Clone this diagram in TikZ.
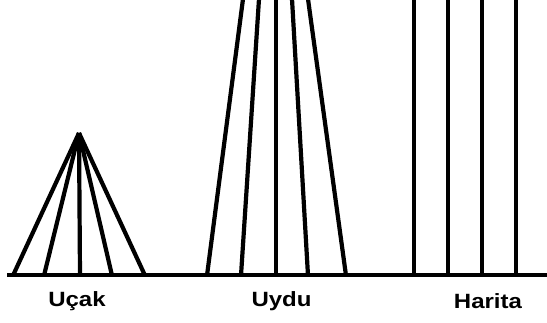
\documentclass[tikz,border=0pt]{standalone}
\usepackage{fontspec}
\setmainfont{Liberation Sans}
\begin{document}
\begin{tikzpicture}[x=1pt,y=-1pt,
  ray/.style={line width=4.2pt,line cap=butt},
  base/.style={line width=4pt},
  lbl/.style={inner sep=0pt,font=\bfseries\fontsize{24}{24}\selectfont}]
\useasboundingbox (0,0) rectangle (547,323);
\begin{scope}
\clip (0,0) rectangle (547,323);
% ground line
\coordinate (gl) at (7,275.5);
\coordinate (gr) at (547,275.5);
% Ucak
\coordinate (apex) at (79,133);
\foreach \i/\x in {1/13,2/44,3/80,4/112,5/145}{
  \coordinate (u\i) at (\x,275.5);
  \draw[ray] (apex) -- (u\i);
}
% Uydu
\foreach \i/\t/\b in {1/243/207,2/259/241,3/276/276,4/292/308,5/308/346}{
  \coordinate (st\i) at (\t,-1);
  \coordinate (sb\i) at (\b,275.5);
  \draw[ray] (st\i) -- (sb\i);
}
% Harita
\foreach \i/\x in {1/414,2/448,3/482,4/516}{
  \coordinate (ht\i) at (\x,-1);
  \coordinate (hb\i) at (\x,275.5);
  \draw[ray] (ht\i) -- (hb\i);
}
\draw[base] (gl) -- (gr);
\end{scope}
\node[lbl] (lucak) at (77,301.5) {\scalebox{1}[0.86]{Uçak}};
\node[lbl] (luydu) at (281.5,301.5) {\scalebox{1}[0.86]{Uydu}};
\node[lbl] (lharita) at (488,301.5) {\scalebox{1}[0.86]{Harita}};
\end{tikzpicture}
\end{document}
